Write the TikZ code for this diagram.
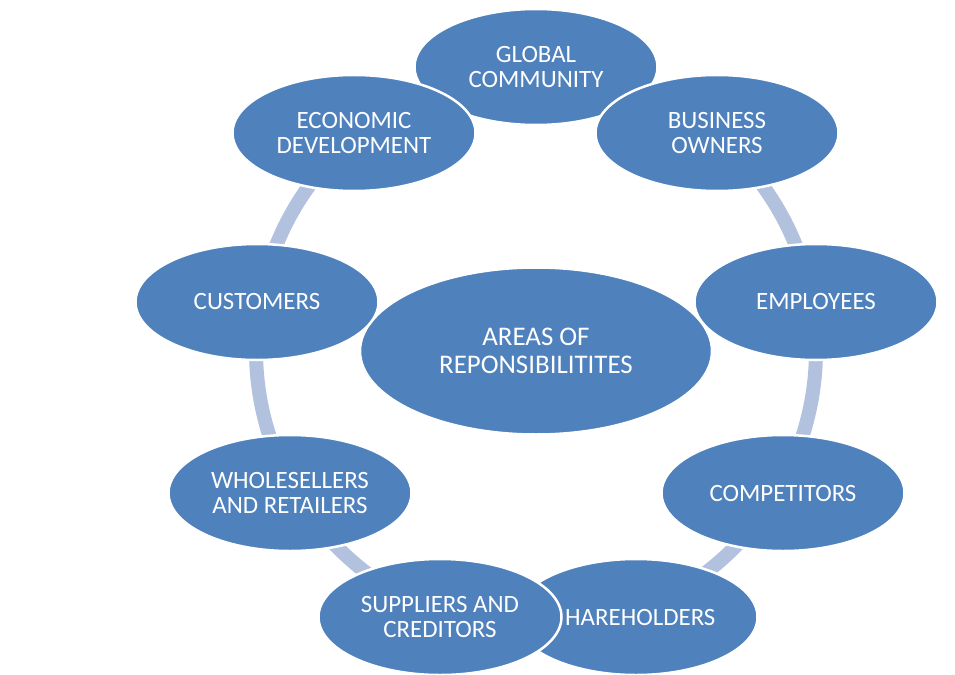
\documentclass[tikz,border=0pt]{standalone}
\usepackage{fontspec}
\setmainfont{Carlito}
\usetikzlibrary{shapes.geometric}
\definecolor{nodeblue}{RGB}{79,129,189}
\definecolor{ringblue}{RGB}{178,193,221}
\begin{document}
\begin{tikzpicture}[x=1bp,y=-1bp,
  cyc/.style={ellipse, fill=nodeblue, draw=white, line width=2.5bp,
    minimum width=243bp, minimum height=116bp, inner sep=0pt,
    text=white, font=\fontsize{25}{25.5}\selectfont, align=center},
  hub/.style={cyc, minimum width=352bp, minimum height=167bp,
    font=\fontsize{27}{28}\selectfont},
  ring/.style={draw=ringblue, line width=14bp},
  lbl/.style={text=white, font=\fontsize{25}{25.5}\selectfont, inner sep=0pt}]
\useasboundingbox (0,0) rectangle (955,675);
\coordinate (rc) at (536,350);
\draw[ring] (rc) circle (280);
\node[hub] (hubn) at (536,351) {AREAS OF\\REPONSIBILITITES};
\node[cyc] (gc) at (536,67) {GLOBAL\\COMMUNITY};
\node[cyc] (bo) at (717,133) {BUSINESS\\OWNERS};
\node[cyc] (em) at (816,302) {EMPLOYEES};
\node[cyc] (co) at (783,493) {COMPETITORS};
\node[cyc] (sh) at (636,617) {};
\node[lbl, anchor=west] (shtext) at (565,617) {HAREHOLDERS};
\node[cyc] (su) at (440,617) {SUPPLIERS AND\\CREDITORS};
\node[cyc] (wr) at (290,493) {WHOLESELLERS\\AND RETAILERS};
\node[cyc] (cu) at (257,302) {CUSTOMERS};
\node[cyc] (ed) at (354,133) {ECONOMIC\\DEVELOPMENT};
\end{tikzpicture}
\end{document}
